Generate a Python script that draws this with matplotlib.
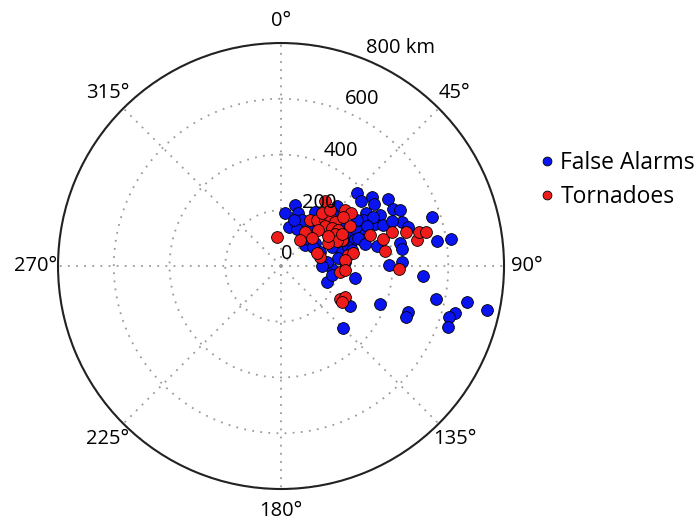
import matplotlib.pyplot as plt
import numpy as np
from matplotlib.transforms import ScaledTranslation

# storm-relative positions: azimuth (deg, clockwise from north) and range (km)
fa_az = [46, 53, 56, 58, 63, 65, 72, 51, 58, 63, 66, 61, 65, 69, 70, 72,
         70, 73, 79, 82, 81, 81, 89.5, 88, 94, 79, 86, 78, 109, 99,
         102, 111, 110, 112, 101, 105, 107, 110, 102, 120, 135,
         4, 13, 11, 18, 24, 23, 43, 56, 70, 69, 77, 93, 85, 74,
         62, 70, 75, 63, 55, 59, 43, 44, 32, 100, 90, 39, 49, 82,
         67, 77, 65, 68, 68, 16, 53, 48, 59]
fa_r = [377, 409, 401, 454, 450, 472, 570, 368, 361, 400, 370, 338, 301, 323, 276, 304,
        461, 478, 435, 437, 566, 619, 389, 433, 512, 240, 230, 351, 173, 269,
        570, 382, 484, 484, 679, 645, 631, 639, 756, 284, 313,
        190, 225, 143, 199, 181, 146, 144, 147, 149, 195, 224, 182, 165, 251,
        372, 295, 312, 258, 266, 318, 292, 262, 230, 185, 147, 166, 114, 207,
        241, 261, 340, 394, 428, 171, 205, 140, 134]

tor_az = [352, 34, 49, 53, 32, 38, 44, 45, 51, 48, 53, 58, 46, 35, 67, 59,
          66, 64, 60, 77, 70, 81, 80, 85, 95.5, 93.5, 71, 75, 73, 82,
          75, 79, 76, 77, 91.5, 119, 116, 120.5, 62, 38, 41, 48, 36, 57, 52]
tor_r = [106, 280, 305, 316, 195, 209, 228, 249, 251, 212, 227, 243, 186, 150, 237, 226,
         218, 188, 285, 144, 136, 245, 263, 231, 213, 230, 338, 380, 415, 377,
         466, 496, 509, 535, 425, 241, 255, 253, 247, 240, 267, 150, 116, 200, 283]

theta_ticks = [0, 45, 90, 135, 180, 225, 270, 315]
r_ticks = [0, 200, 400, 600, 800]
r_labels = ['0', '200', '400', '600', '800 km']

font = 'Open Sans'

fig = plt.figure(figsize=(6.95, 5.22), dpi=100)
ax = fig.add_axes([0.0835, 0.0632, 0.6417, 0.8544], projection='polar')
ax.set_theta_zero_location('N')
ax.set_theta_direction(-1)
ax.set_ylim(0, 800)

ax.set_xticks(np.radians(theta_ticks))
ax.set_xticklabels([])
ax.set_yticks(r_ticks[1:])
ax.set_yticklabels([])
ax.grid(True, color='#9a9a9a', linestyle=(0, (1, 3.5)), linewidth=1.3)
ax.spines['polar'].set_color('#222222')
ax.spines['polar'].set_linewidth(1.5)

ax.scatter(np.radians(fa_az), fa_r, s=72, c='#0a14f0', edgecolors='k',
           linewidths=0.6, label='False Alarms', zorder=3)
ax.scatter(np.radians(tor_az), tor_r, s=72, c='#f01c1c', edgecolors='k',
           linewidths=0.6, label='Tornadoes', zorder=4)

# angle labels just outside the rim
for t in theta_ticks:
    ax.text(np.radians(t), 880, f'{t}°', ha='center', va='center',
            fontsize=14.5, family=font, clip_on=False)

# range labels along the 22.5 degree line
shift = ax.transData + ScaledTranslation(0, 12 / 100, fig.dpi_scale_trans)
for r, lab in zip(r_ticks, r_labels):
    ax.text(np.radians(22.5), r, lab, ha='left', va='center', fontsize=14.5,
            family=font, transform=shift, clip_on=False, zorder=6)

fig.legend(loc='center left', bbox_to_anchor=(0.76, 0.655), frameon=False,
           prop={'family': font, 'size': 16.5}, markerscale=0.75,
           handlelength=0.6, handletextpad=0.3, labelspacing=0.45,
           borderpad=0, scatteryoffsets=[0.5])

fig.savefig('out.png', dpi=100)
